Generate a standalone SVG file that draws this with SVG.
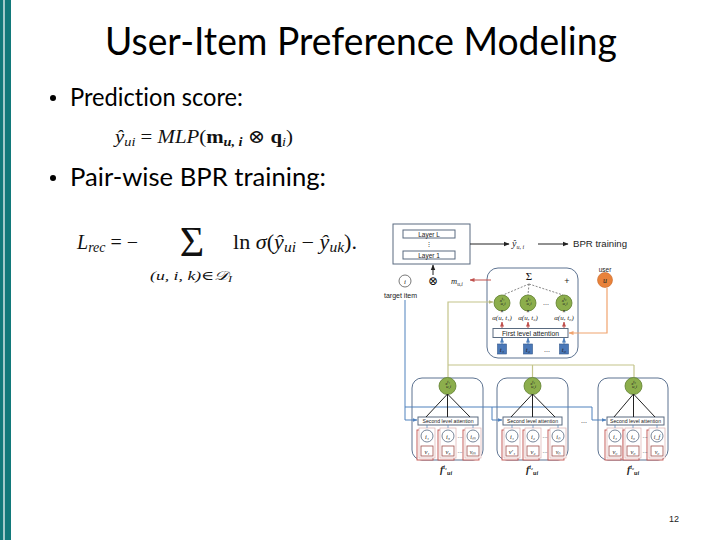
<svg xmlns="http://www.w3.org/2000/svg" width="720" height="540" viewBox="0 0 720 540">
<defs>
<style>
.sans{font-family:Lato,"Liberation Sans",sans-serif;fill:#000;font-variant-ligatures:none}
.math{font-family:"Liberation Serif","DejaVu Serif",serif;fill:#111}
.dl{font-family:"Liberation Sans",Arial,sans-serif;fill:#222}
.dm{font-family:"Liberation Serif",serif;font-style:italic;fill:#222}
.frame{fill:#fff;stroke:#5a6b80;stroke-width:1}
.rbox{fill:none;stroke:#5d7391;stroke-width:1}
.green{fill:#8cae4c;stroke:#5f7f2e;stroke-width:0.8}
.tile{fill:#4a78b8;stroke:#33578a;stroke-width:0.6}
.att{fill:#fff;stroke:#5a6b80;stroke-width:1}
.k{stroke:#222;stroke-width:1;fill:none}
.blue{stroke:#4f81bd;stroke-width:1;fill:none}
.olive{stroke:#c3c48a;stroke-width:1.2;fill:none}
.orng{stroke:#f0a36e;stroke-width:1.2;fill:none}
.red{stroke:#c0504d;stroke-width:1;fill:none}
.dash{stroke:#555;stroke-width:0.7;stroke-dasharray:2 1.5;fill:none}
</style>
<marker id="ak" viewBox="0 0 10 10" refX="9" refY="5" markerWidth="6" markerHeight="6" markerUnits="userSpaceOnUse" orient="auto"><path d="M0,1 L10,5 L0,9 z" fill="#222"/></marker>
<marker id="ab" viewBox="0 0 10 10" refX="9" refY="5" markerWidth="5" markerHeight="5" markerUnits="userSpaceOnUse" orient="auto"><path d="M0,1 L10,5 L0,9 z" fill="#4f81bd"/></marker>
<marker id="ar" viewBox="0 0 10 10" refX="9" refY="5" markerWidth="5" markerHeight="5" markerUnits="userSpaceOnUse" orient="auto"><path d="M0,1 L10,5 L0,9 z" fill="#c0504d"/></marker>
<marker id="ao" viewBox="0 0 10 10" refX="9" refY="5" markerWidth="5" markerHeight="5" markerUnits="userSpaceOnUse" orient="auto"><path d="M0,1 L10,5 L0,9 z" fill="#f0a36e"/></marker>
<marker id="ag" viewBox="0 0 10 10" refX="9" refY="5" markerWidth="5" markerHeight="5" markerUnits="userSpaceOnUse" orient="auto"><path d="M0,1 L10,5 L0,9 z" fill="#b5b67a"/></marker>
<g id="card">
<rect x="-2" y="2" width="16" height="30" fill="#fff" stroke="#c0504d" stroke-width="0.9"/>
<rect x="0" y="0" width="16" height="30" fill="#fff" stroke="#dcb0ae" stroke-width="0.7"/>
<circle cx="8" cy="8" r="6" fill="#fff" stroke="#55677f" stroke-width="0.8"/>
<rect x="2" y="18" width="12" height="10" fill="#fff" stroke="#a0504d" stroke-width="0.8"/>
<line x1="8" y1="0" x2="8" y2="-3" stroke="#4f81bd" stroke-width="0.7"/>
</g>
</defs>
<rect width="720" height="540" fill="#fff"/>
<rect x="0" y="0" width="11" height="540" fill="#12797a"/>
<rect x="3.4" y="0" width="1.2" height="540" fill="#fff"/>

<g id="title"><text class="sans" x="361" y="55" font-size="38" text-anchor="middle" textLength="512" lengthAdjust="spacingAndGlyphs">User-Item Preference Modeling</text></g>

<g id="bullet1"><circle cx="53" cy="98" r="3" fill="#000"/><text class="sans" x="70" y="106" font-size="25" textLength="173" lengthAdjust="spacingAndGlyphs">Prediction score:</text></g>
<g id="formula1"><text class="math" x="115" y="143" font-size="19" textLength="178" lengthAdjust="spacingAndGlyphs"><tspan font-style="italic">ŷ</tspan><tspan font-style="italic" font-size="13" dy="3">ui</tspan><tspan dy="-3"> = </tspan><tspan font-style="italic">MLP</tspan>(<tspan font-weight="bold">m</tspan><tspan font-size="13" dy="3" font-style="italic" font-weight="bold">u, i</tspan><tspan dy="-3"> ⊗ </tspan><tspan font-weight="bold">q</tspan><tspan font-size="13" dy="3" font-style="italic">i</tspan><tspan dy="-3">)</tspan></text></g>

<g id="bullet2"><circle cx="53" cy="178" r="3" fill="#000"/><text class="sans" x="70" y="186" font-size="25" textLength="256" lengthAdjust="spacingAndGlyphs">Pair-wise BPR training:</text></g>
<g id="formula2">
<text class="math" x="77" y="249" font-size="20"><tspan font-style="italic">L</tspan><tspan font-style="italic" font-size="14" dy="3">rec</tspan><tspan dy="-3"> = −</tspan></text>
<text class="math" x="192" y="256" font-size="42" text-anchor="middle">Σ</text>
<text class="math" x="150" y="280" font-size="13" font-style="italic" textLength="82" lengthAdjust="spacingAndGlyphs">(u, i, k)∈<tspan font-family="'DejaVu Serif',serif">𝒟</tspan><tspan font-size="9" dy="2">I</tspan></text>
<text class="math" x="233" y="249" font-size="20" textLength="124" lengthAdjust="spacingAndGlyphs">ln <tspan font-style="italic">σ</tspan>(<tspan font-style="italic">ŷ</tspan><tspan font-style="italic" font-size="14" dy="3">ui</tspan><tspan dy="-3"> − </tspan><tspan font-style="italic">ŷ</tspan><tspan font-style="italic" font-size="14" dy="3">uk</tspan><tspan dy="-3">).</tspan></text>
</g>

<g id="page-number"><text class="dl" x="674" y="522" font-size="9" text-anchor="middle" fill="#888">12</text></g>

<!-- diagram nodes -->
<g id="mlp">
<rect class="frame" x="393" y="224" width="77" height="40"/>
<rect class="att" x="403" y="230" width="52" height="8"/>
<text class="dl" x="429" y="236.5" font-size="6.5" text-anchor="middle">Layer L</text>
<text class="dl" x="429" y="246" font-size="6" text-anchor="middle">⋮</text>
<rect class="att" x="403" y="251" width="52" height="8"/>
<text class="dl" x="429" y="257.5" font-size="6.5" text-anchor="middle">Layer 1</text>
</g>
<g id="yhat"><text class="dm" x="512" y="247" font-size="10">ŷ<tspan font-size="6" dy="2">u, i</tspan></text></g>
<g id="bpr"><text class="dl" x="573" y="247" font-size="8.5" textLength="54" lengthAdjust="spacingAndGlyphs">BPR  training</text></g>
<g id="otimes"><text class="math" x="433" y="285" font-size="12" text-anchor="middle">⊗</text></g>
<g id="target-item"><circle cx="405" cy="281" r="6" fill="#fff" stroke="#555" stroke-width="0.8"/><text class="dm" x="405" y="284" font-size="7" text-anchor="middle">i</text><text class="dl" x="384" y="298" font-size="7">target item</text></g>
<g id="m-ui"><text class="dm" x="451" y="284" font-size="8.5">m<tspan font-size="5.5" dy="1.5">u,i</tspan></text></g>
<g id="user"><text class="dl" x="605" y="272" font-size="6.5" text-anchor="middle">user</text><circle cx="605" cy="280" r="7.5" fill="#e8823a" stroke="#c9692a" stroke-width="0.6"/><text class="dm" x="605" y="283" font-size="8" text-anchor="middle" fill="#5a2a00">u</text></g>

<g id="first-level">
<rect class="rbox" x="487" y="268" width="91" height="90" rx="11"/>
<text class="math" x="529" y="280" font-size="11" text-anchor="middle">Σ</text>
<text class="dl" x="567" y="284" font-size="9" text-anchor="middle" fill="#666">+</text>
<circle class="green" cx="502" cy="303" r="8"/><text class="dm" x="502" y="302" font-size="5" text-anchor="middle">x<tspan font-size="4" dy="-2">t₁</tspan><tspan x="503" dy="5">u,i</tspan></text>
<circle class="green" cx="528" cy="303" r="8"/><text class="dm" x="528" y="302" font-size="5" text-anchor="middle">x<tspan font-size="4" dy="-2">t₂</tspan><tspan x="529" dy="5">u,i</tspan></text>
<circle class="green" cx="564" cy="303" r="8"/><text class="dm" x="564" y="302" font-size="5" text-anchor="middle">x<tspan font-size="4" dy="-2">t₀</tspan><tspan x="565" dy="5">u,i</tspan></text>
<text class="dl" x="546" y="305" font-size="7" text-anchor="middle">...</text>
<text class="dl" x="502" y="313" font-size="5" text-anchor="middle">×</text>
<text class="dl" x="528" y="313" font-size="5" text-anchor="middle">×</text>
<text class="dl" x="564" y="313" font-size="5" text-anchor="middle">×</text>
<text class="dm" x="502" y="320" font-size="7" text-anchor="middle">α(u, t₁)</text>
<text class="dm" x="528" y="320" font-size="7" text-anchor="middle">α(u, t₂)</text>
<text class="dm" x="564" y="320" font-size="7" text-anchor="middle">α(u, t₀)</text>
<rect class="att" x="493" y="328.5" width="75" height="9"/>
<text class="dl" x="530.5" y="335.5" font-size="6.8" text-anchor="middle">First level attention</text>
<rect class="tile" x="497.5" y="344" width="9" height="10"/><text class="dm" x="502" y="352" font-size="7" text-anchor="middle" fill="#fff">t₁</text>
<rect class="tile" x="523.5" y="344" width="9" height="10"/><text class="dm" x="528" y="352" font-size="7" text-anchor="middle" fill="#fff">t₂</text>
<rect class="tile" x="559.5" y="344" width="9" height="10"/><text class="dm" x="564" y="352" font-size="7" text-anchor="middle" fill="#fff">t₀</text>
<text class="dl" x="547" y="352" font-size="7" text-anchor="middle">...</text>
</g>

<g id="second-level-1">
<rect class="rbox" x="412" y="378" width="71" height="82" rx="10"/>
<circle class="green" cx="447.5" cy="386" r="8.5"/><text class="dm" x="447.5" y="385" font-size="5" text-anchor="middle">x<tspan font-size="4" dy="-2">t₁</tspan><tspan x="448.5" dy="5">u,i</tspan></text>
<rect class="att" x="418" y="417" width="60" height="8"/>
<text class="dl" x="448" y="423" font-size="5.2" text-anchor="middle">Second level attention</text>
<use href="#card" x="419" y="428"/><use href="#card" x="440" y="428"/><use href="#card" x="465" y="428"/>
<text class="dm" x="427" y="438.5" font-size="6.5" text-anchor="middle">i₁</text><text class="dm" x="448" y="438.5" font-size="6.5" text-anchor="middle">i₃</text><text class="dm" x="473" y="438.5" font-size="6" text-anchor="middle">iₘ</text>
<text class="dm" x="427" y="454" font-size="6.5" text-anchor="middle">v₁</text><text class="dm" x="448" y="454" font-size="6.5" text-anchor="middle">v₃</text><text class="dm" x="473" y="454" font-size="6" text-anchor="middle">vₘ</text>
<text class="dl" x="460" y="438" font-size="6" text-anchor="middle">...</text><text class="dl" x="460" y="453" font-size="6" text-anchor="middle">...</text>
<text class="dm" x="440" y="473" font-size="10" font-weight="bold">f<tspan font-size="6" dy="-4">t₁</tspan><tspan font-size="6" dy="6">ui</tspan></text>
</g>

<g id="second-level-2">
<rect class="rbox" x="497" y="378" width="71" height="82" rx="10"/>
<circle class="green" cx="532.5" cy="386" r="8.5"/><text class="dm" x="532.5" y="385" font-size="5" text-anchor="middle">x<tspan font-size="4" dy="-2">t₂</tspan><tspan x="533.5" dy="5">u,i</tspan></text>
<rect class="att" x="503" y="417" width="59" height="8"/>
<text class="dl" x="532.5" y="423" font-size="5.2" text-anchor="middle">Second level attention</text>
<use href="#card" x="504" y="428"/><use href="#card" x="525" y="428"/><use href="#card" x="550" y="428"/>
<text class="dm" x="512" y="438.5" font-size="6.5" text-anchor="middle">i₁</text><text class="dm" x="533" y="438.5" font-size="6.5" text-anchor="middle">i₂</text><text class="dm" x="558" y="438.5" font-size="6" text-anchor="middle">iₙ</text>
<text class="dm" x="512" y="454" font-size="6.5" text-anchor="middle">v′₁</text><text class="dm" x="533" y="454" font-size="6.5" text-anchor="middle">v₂</text><text class="dm" x="558" y="454" font-size="6" text-anchor="middle">vₙ</text>
<text class="dl" x="545" y="438" font-size="6" text-anchor="middle">...</text><text class="dl" x="545" y="453" font-size="6" text-anchor="middle">...</text>
<text class="dm" x="526" y="473" font-size="10" font-weight="bold">f<tspan font-size="6" dy="-4">t₂</tspan><tspan font-size="6" dy="6">ui</tspan></text>
</g>

<g id="ellipsis-boxes"><text class="dl" x="584" y="423" font-size="7" text-anchor="middle">...</text></g>

<g id="second-level-3">
<rect class="rbox" x="598" y="378" width="70" height="82" rx="10"/>
<circle class="green" cx="633.5" cy="386" r="8.5"/><text class="dm" x="633.5" y="385" font-size="5" text-anchor="middle">x<tspan font-size="4" dy="-2">t₀</tspan><tspan x="634.5" dy="5">u,i</tspan></text>
<rect class="att" x="607" y="417" width="57" height="8"/>
<text class="dl" x="635.5" y="423" font-size="5.2" text-anchor="middle">Second level attention</text>
<use href="#card" x="607" y="428"/><use href="#card" x="625" y="428"/><use href="#card" x="649" y="428"/>
<text class="dm" x="615" y="438.5" font-size="6.5" text-anchor="middle">i₄</text><text class="dm" x="633" y="438.5" font-size="6.5" text-anchor="middle">i₆</text><text class="dm" x="657" y="438.5" font-size="6" text-anchor="middle">i_f</text>
<text class="dm" x="615" y="454" font-size="6.5" text-anchor="middle">v₉</text><text class="dm" x="633" y="454" font-size="6.5" text-anchor="middle">v₀</text><text class="dm" x="657" y="454" font-size="6" text-anchor="middle">v₀</text>
<text class="dl" x="645" y="438" font-size="6" text-anchor="middle">...</text><text class="dl" x="645" y="453" font-size="6" text-anchor="middle">...</text>
<text class="dm" x="627" y="473" font-size="10" font-weight="bold">f<tspan font-size="6" dy="-4">t₀</tspan><tspan font-size="6" dy="6">ui</tspan></text>
</g>

<g id="connectors">
<line class="k" x1="470" y1="244" x2="509" y2="244" marker-end="url(#ak)"/>
<line class="k" x1="538" y1="244" x2="568" y2="244" marker-end="url(#ak)"/>
<line class="k" x1="433" y1="275" x2="433" y2="265" marker-end="url(#ak)"/>
<line class="red" x1="491" y1="280" x2="470" y2="280" marker-end="url(#ar)"/>
<line class="dash" x1="529" y1="284" x2="503" y2="295"/>
<line class="dash" x1="529" y1="284" x2="528" y2="295"/>
<line class="dash" x1="529" y1="284" x2="563" y2="295"/>
<line class="red" x1="502" y1="328" x2="502" y2="322" marker-end="url(#ar)"/>
<line class="red" x1="528" y1="328" x2="528" y2="322" marker-end="url(#ar)"/>
<line class="red" x1="564" y1="328" x2="564" y2="322" marker-end="url(#ar)"/>
<line class="blue" x1="502" y1="344" x2="502" y2="338" marker-end="url(#ab)"/>
<line class="blue" x1="528" y1="344" x2="528" y2="338" marker-end="url(#ab)"/>
<line class="blue" x1="564" y1="344" x2="564" y2="338" marker-end="url(#ab)"/>
<polyline class="orng" points="607,288 607,333 569,333" marker-end="url(#ao)"/>
<polyline class="olive" points="448,365 448,302 493,302" marker-end="url(#ag)"/>
<polyline class="olive" points="448,365 448,377"/>
<line class="olive" x1="448" y1="365" x2="634" y2="365"/>
<line class="olive" x1="532.5" y1="365" x2="532.5" y2="377"/>
<line class="olive" x1="634" y1="365" x2="634" y2="377"/>
<polyline class="blue" points="405,300 405,420 417,420" marker-end="url(#ab)"/>
<line class="blue" x1="405" y1="407" x2="592" y2="407"/>
<polyline class="blue" points="492,407 492,420 502,420" marker-end="url(#ab)"/>
<polyline class="blue" points="592,407 592,420 606,420" marker-end="url(#ab)"/>
<line class="k" x1="447.5" y1="394" x2="426" y2="417"/>
<line class="k" x1="447.5" y1="394" x2="447.5" y2="417"/>
<line class="k" x1="447.5" y1="394" x2="470" y2="417"/>
<line class="k" x1="532.5" y1="394" x2="511" y2="417"/>
<line class="k" x1="532.5" y1="394" x2="532.5" y2="417"/>
<line class="k" x1="532.5" y1="394" x2="555" y2="417"/>
<line class="k" x1="633.5" y1="394" x2="614" y2="417"/>
<line class="k" x1="633.5" y1="394" x2="633.5" y2="417"/>
<line class="k" x1="633.5" y1="394" x2="655" y2="417"/>
</g>
</svg>
